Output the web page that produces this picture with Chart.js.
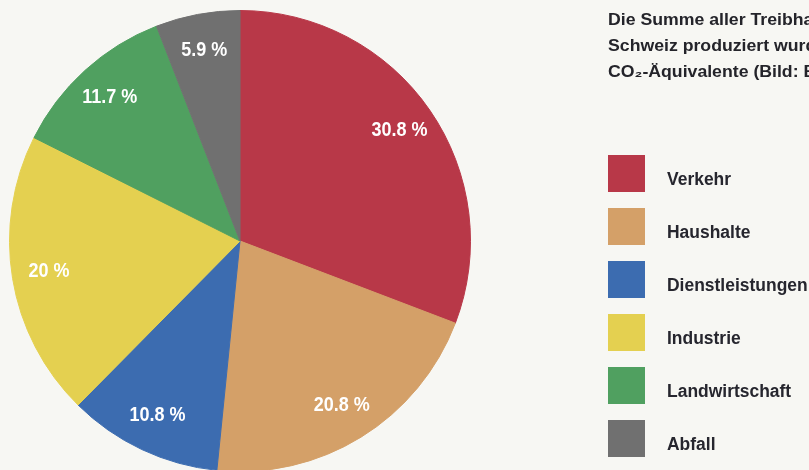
<!DOCTYPE html>
<html><head><meta charset="utf-8">
<script src="https://cdn.jsdelivr.net/npm/chart.js@4"></script>
<style>html,body{margin:0;padding:0;background:#f7f7f3;overflow:hidden;width:809px;height:470px}canvas{display:block}</style>
</head><body><canvas id="c" width="809" height="482"></canvas>
<script>
const categories = ['Verkehr','Haushalte','Dienstleistungen','Industrie','Landwirtschaft','Abfall'];
const shares = [30.8, 20.8, 10.8, 20, 11.7, 5.9];
const valueLabels = ['30.8 %','20.8 %','10.8 %','20 %','11.7 %','5.9 %'];
const colors = ['#b83848','#d4a068','#3c6cb0','#e4d050','#50a060','#707070'];
const titleLines = ['Die Summe aller Treibhausgase, die in der','Schweiz produziert wurden, in Millionen Tonnen','CO₂-Äquivalente (Bild: BAFU)'];

const FONT = "'Liberation Sans','Arial',sans-serif";
function drawText(ctx, text, x, y, size, color, align, sx){
  ctx.save();
  ctx.font = 'bold ' + size + 'px ' + FONT;
  ctx.fillStyle = color; ctx.textBaseline = 'alphabetic'; ctx.textAlign = align;
  ctx.translate(x, y); ctx.scale(sx, 1); ctx.fillText(text, 0, 0);
  ctx.restore();
}
const overlay = {
  id: 'overlay',
  afterDatasetsDraw(chart){
    const ctx = chart.ctx;
    const meta = chart.getDatasetMeta(0);
    meta.data.forEach((arc, i) => {
      const p = arc.getProps(['x','y','startAngle','endAngle','outerRadius'], true);
      const mid = (p.startAngle + p.endAngle) / 2;
      const r = p.outerRadius * 0.84;
      drawText(ctx, valueLabels[i], p.x + Math.cos(mid) * r, p.y + Math.sin(mid) * r + 5, 20, '#ffffff', 'center', 0.9);
    });
    const lx = 608, ly = 155, step = 53, sq = 37;
    categories.forEach((c, i) => {
      ctx.fillStyle = colors[i];
      ctx.fillRect(lx, ly + i * step, sq, sq);
      drawText(ctx, c, 667, ly + i * step + 30, 18, '#26262e', 'left', 0.97);
    });
    titleLines.forEach((t, i) => drawText(ctx, t, 608, 25 + i * 26, 17, '#24242a', 'left', 1.04));
  }
};
new Chart(document.getElementById('c'), {
  type: 'pie',
  data: { labels: categories, datasets: [{ data: shares, backgroundColor: colors, borderColor: colors, borderWidth: 1 }] },
  options: {
    responsive: false, animation: false, devicePixelRatio: 1, events: [],
    layout: { padding: { left: 9, top: 10, right: 338, bottom: 10 } },
    plugins: { legend: { display: false }, tooltip: { enabled: false } }
  },
  plugins: [overlay]
});
</script></body></html>
